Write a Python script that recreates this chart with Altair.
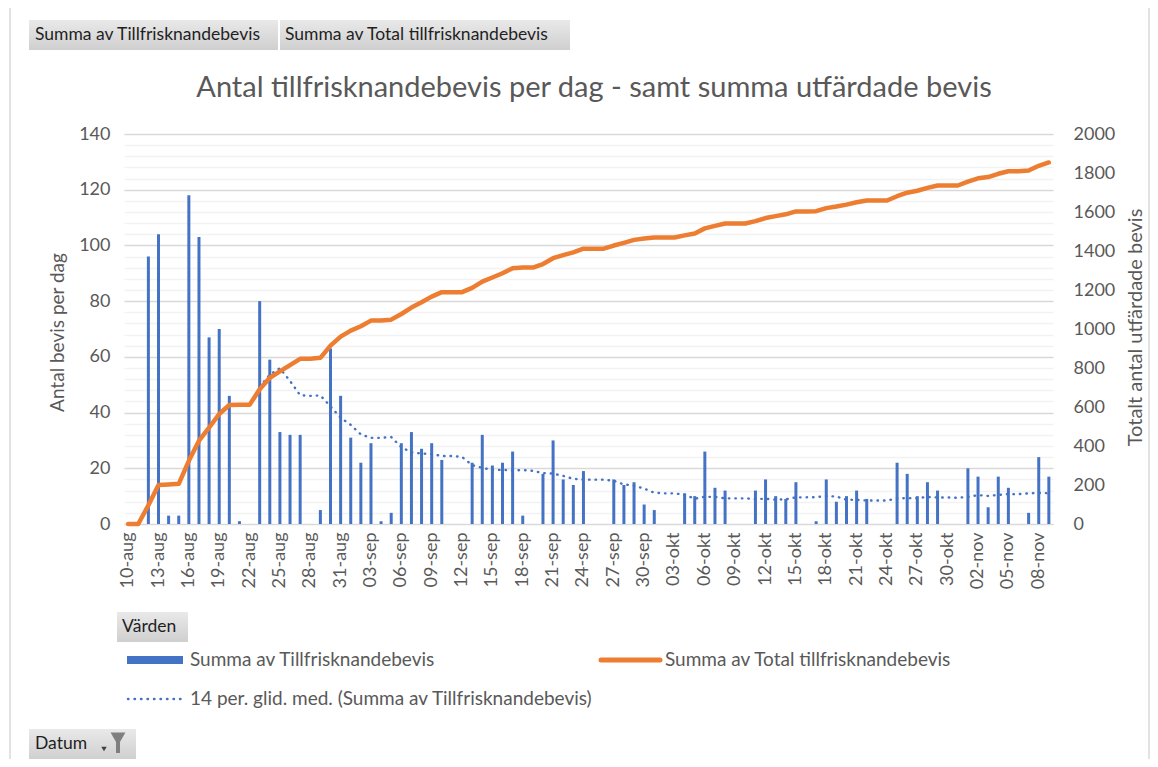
import altair as alt
import pandas as pd

FONT = "Lato"
TXT = "#595959"
BLUE = "#4472C4"
ORANGE = "#ED7D31"

# Category labels (one per day, 10-aug .. 09-nov)
month_days = [("aug", range(10, 32)), ("sep", range(1, 31)), ("okt", range(1, 32)), ("nov", range(1, 10))]
dates = [f"{d:02d}-{m}" for m, days in month_days for d in days]

# Daily number of certificates
daily = [0, 0, 96, 104, 3, 3, 118, 103, 67, 70, 46,
         1, 0, 80, 59, 33, 32, 32,
         0, 5, 63, 46, 31, 22, 29,
         1, 4, 29, 33, 27, 29, 23,
         0, 0, 22, 32, 21, 22, 26,
         3, 0, 18, 30, 16, 14, 19,
         0, 0, 16, 14, 15, 7, 5,
         0, 0, 11, 10, 26, 13, 12,
         0, 0, 12, 16, 10, 9, 15,
         0, 1, 16, 8, 10, 12, 9,
         0, 0, 22, 18, 10, 15, 12,
         0, 0, 20, 17, 6, 17, 13,
         0, 4, 24, 17]
assert len(daily) == len(dates) == 92

left_ticks = list(range(0, 141, 4))
right_ticks = list(range(0, 2001, 200))
x_tick_labels = dates[::3]

df = pd.DataFrame({"Datum": dates, "idx": list(range(len(dates))), "Tillfrisknandebevis": daily})

W, H = 929, 390

xenc = alt.X("Datum:N", sort=dates, title=None,
             scale=alt.Scale(paddingInner=0.5, paddingOuter=0.16),
             axis=alt.Axis(values=x_tick_labels, labelAngle=-90, labelPadding=8,
                           ticks=False, domainColor="#D9D9D9", labelColor=TXT,
                           labelFontSize=18, labelFont=FONT))

left_axis = alt.Axis(values=left_ticks, title="Antal bevis per dag",
                     labelExpr="datum.value % 20 === 0 ? datum.label : ''",
                     gridColor={"condition": {"test": "datum.value % 20 === 0", "value": "#D9D9D9"},
                                "value": "#F2F2F2"},
                     gridWidth=1.3, domain=False, ticks=False, labelPadding=14,
                     labelFontSize=18, labelColor=TXT, labelFont=FONT,
                     titleFontSize=19, titleColor=TXT, titleFont=FONT, titleFontWeight="normal",
                     titleAngle=270, titleX=-67, titleY=198, titleAlign="center", titleBaseline="middle")

right_axis = alt.Axis(values=right_ticks, orient="right", grid=False, title="Totalt antal utfärdade bevis",
                      format="d", domain=False, ticks=False, labelPadding=20,
                      labelFontSize=18, labelColor=TXT, labelFont=FONT,
                      titleFontSize=20, titleColor=TXT, titleFont=FONT, titleFontWeight="normal",
                      titleAngle=270, titleX=82, titleY=193, titleAlign="center", titleBaseline="middle")

yleft = alt.Scale(domain=[0, 140])

bars = alt.Chart(df).mark_bar(color=BLUE, width=3).encode(
    x=xenc,
    y=alt.Y("Tillfrisknandebevis:Q", scale=yleft, axis=left_axis),
)

ma = alt.Chart(df).transform_window(
    ma="mean(Tillfrisknandebevis)", frame=[-13, 0], sort=[alt.SortField("idx")]
).transform_filter("datum.idx >= 13").mark_line(
    color=BLUE, strokeWidth=2.4, strokeDash=[0.5, 6], strokeCap="round"
).encode(x=xenc, y=alt.Y("ma:Q", scale=yleft, axis=left_axis))

cum = alt.Chart(df).transform_window(
    total="sum(Tillfrisknandebevis)", frame=[None, 0], sort=[alt.SortField("idx")]
).mark_line(color=ORANGE, strokeWidth=4.5, strokeCap="round", strokeJoin="round").encode(
    x=xenc,
    y=alt.Y("total:Q", scale=alt.Scale(domain=[0, 2000]), axis=right_axis),
)

one = pd.DataFrame({"k": [0]})
BTN_FILL = {"gradient": "linear", "x1": 0, "y1": 0, "x2": 0, "y2": 1,
            "stops": [{"offset": 0, "color": "#E9E9E9"}, {"offset": 1, "color": "#CFCFCF"}]}


def text(t, x, y, size, color=TXT, align="left"):
    return alt.Chart(one).mark_text(text=t, align=align, baseline="middle", fontSize=size,
                                    color=color, font=FONT).encode(x=alt.value(x), y=alt.value(y))


def rect(x1, x2, y1, y2, **kw):
    return alt.Chart(one).mark_rect(**kw).encode(
        x=alt.value(x1), x2=alt.value(x2), y=alt.value(y1), y2=alt.value(y2))


def rule(x1, x2, y, **kw):
    return alt.Chart(one).mark_rule(**kw).encode(x=alt.value(x1), x2=alt.value(x2), y=alt.value(y))


decor = [
    rect(-114, 1025, -129, 640, fillOpacity=0, stroke="#D9D9D9", strokeWidth=1.5),
    # chart title
    text("Antal tillfrisknandebevis per dag - samt summa utfärdade bevis", 470, -46, 29, TXT, "center"),
    # field buttons at top
    rect(-95, 154, -114, -84, fill=BTN_FILL),
    text("Summa av Tillfrisknandebevis", -89, -99, 17.5, "#1F1F1F"),
    rect(156, 446, -114, -84, fill=BTN_FILL),
    text("Summa av Total tillfrisknandebevis", 161, -99, 17.5, "#1F1F1F"),
    # "Värden" button
    rect(-7, 64, 478, 508, fill=BTN_FILL),
    text("Värden", -2, 493, 17.5, "#1F1F1F"),
    # legend
    rect(3, 59, 522, 530, fill=BLUE),
    text("Summa av Tillfrisknandebevis", 66, 526, 19),
    rule(477, 536, 526, color=ORANGE, strokeWidth=5, strokeCap="round"),
    text("Summa av Total tillfrisknandebevis", 541, 526, 19),
    rule(4, 59, 565, color=BLUE, strokeWidth=2.4, strokeDash=[0.5, 6], strokeCap="round"),
    text("14 per. glid. med. (Summa av Tillfrisknandebevis)", 66, 565, 19),
    # "Datum" button with filter icon
    rect(-95, 12, 595, 626, fill=BTN_FILL),
    text("Datum", -89, 610, 17.5, "#1F1F1F"),
    alt.Chart(one).mark_point(shape="triangle-down", filled=True, size=30, color="#404040", opacity=1).encode(
        x=alt.value(-20), y=alt.value(615)),
    alt.Chart(one).mark_point(shape="triangle-down", filled=True, size=220, color="#7F7F7F", opacity=1).encode(
        x=alt.value(-6), y=alt.value(605)),
    rect(-8, -4, 606, 619, fill="#7F7F7F"),
]

chart = alt.layer(
    *decor[:1], alt.layer(bars, ma), cum, *decor[1:]
).resolve_scale(y="independent").properties(
    width=W, height=H,
    padding={"left": 116, "top": 126, "right": 97, "bottom": 235},
    autosize=alt.AutoSizeParams(type="none"),
    background="white",
).configure_view(strokeWidth=0)

chart.save("out.html", embed_options={"renderer": "svg", "actions": False})
